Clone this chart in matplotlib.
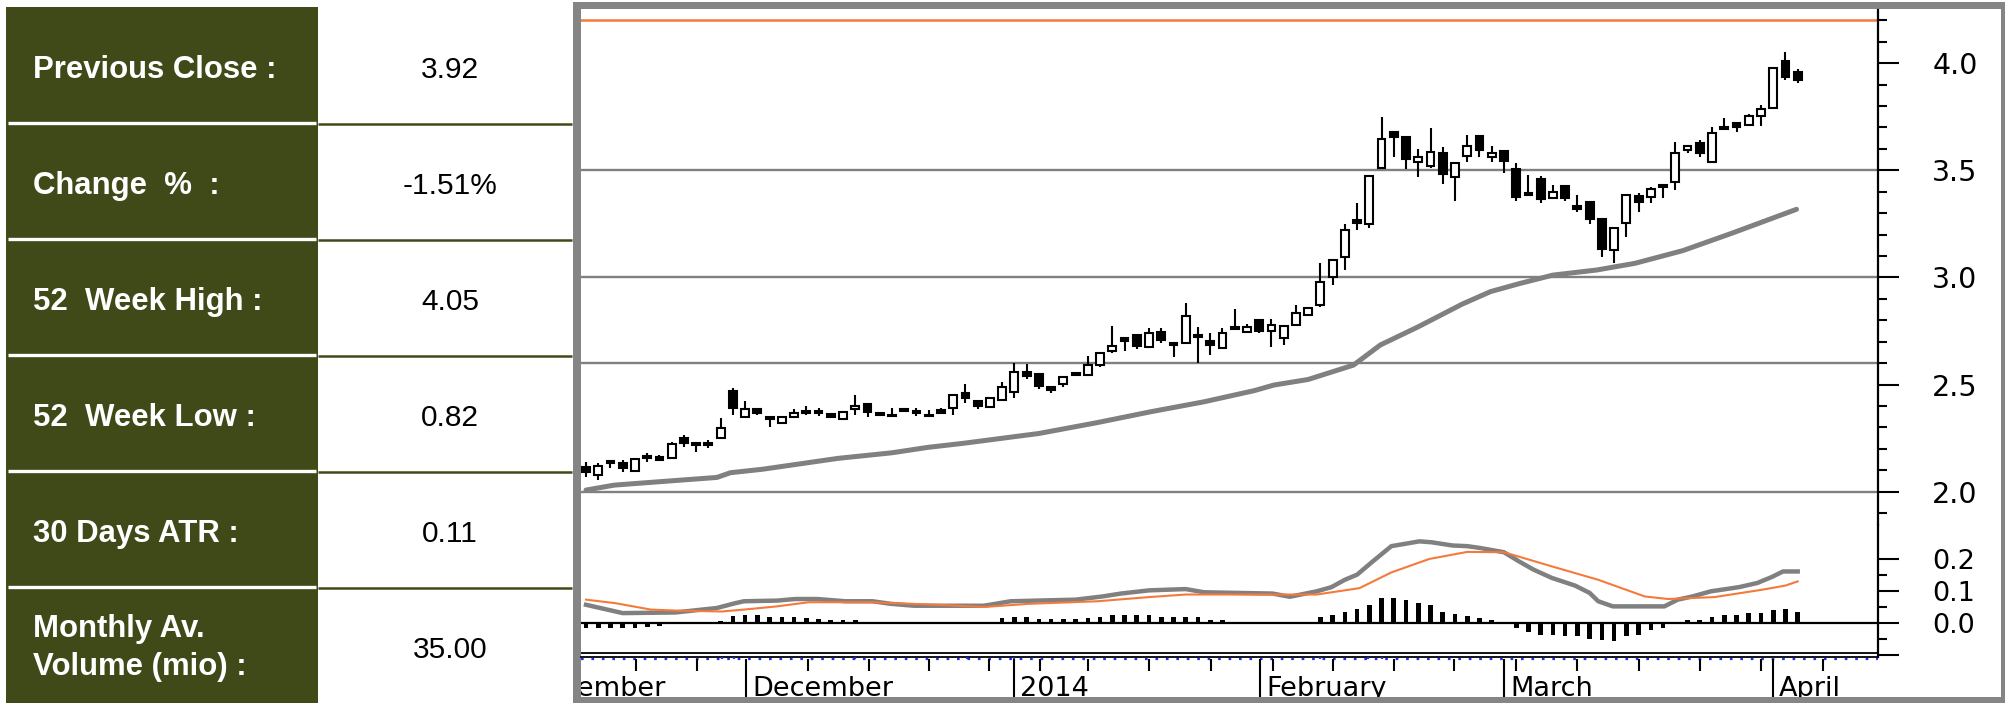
import matplotlib
matplotlib.use("Agg")
import matplotlib.pyplot as plt
from matplotlib.patches import Rectangle
from matplotlib import transforms
import numpy as np

# ---------------- data ----------------
labels = ["Previous Close :", "Change  %  :", "52  Week High :", "52  Week Low :",
          "30 Days ATR :", "Monthly Av.\nVolume (mio) :"]
values = ["3.92", "-1.51%", "4.05", "0.82", "0.11", "35.00"]

opens = [2.117, 2.078, 2.143, 2.135, 2.098, 2.167, 2.163, 2.156, 2.249, 2.226,
         2.226, 2.249, 2.471, 2.350, 2.387, 2.347, 2.319, 2.350, 2.377, 2.377,
         2.363, 2.338, 2.385, 2.408, 2.369, 2.360, 2.385, 2.377, 2.360, 2.381,
         2.389, 2.459, 2.425, 2.397, 2.428, 2.467, 2.560, 2.549, 2.490, 2.503,
         2.555, 2.544, 2.591, 2.658, 2.716, 2.731, 2.677, 2.747, 2.695, 2.695,
         2.731, 2.705, 2.669, 2.770, 2.747, 2.801, 2.751, 2.716, 2.778, 2.825,
         2.870, 3.003, 3.097, 3.267, 3.248, 3.509, 3.680, 3.654, 3.540, 3.520,
         3.580, 3.470, 3.566, 3.660, 3.560, 3.591, 3.504, 3.395, 3.458, 3.369,
         3.426, 3.333, 3.353, 3.271, 3.128, 3.252, 3.380, 3.377, 3.430, 3.447,
         3.594, 3.629, 3.540, 3.700, 3.719, 3.711, 3.753, 3.789, 4.011, 3.960]
closes = [2.093, 2.121, 2.135, 2.109, 2.151, 2.158, 2.150, 2.223, 2.226, 2.218,
          2.218, 2.299, 2.389, 2.385, 2.366, 2.338, 2.350, 2.369, 2.368, 2.366,
          2.350, 2.373, 2.400, 2.373, 2.356, 2.352, 2.375, 2.366, 2.352, 2.369,
          2.451, 2.436, 2.400, 2.436, 2.490, 2.560, 2.540, 2.493, 2.477, 2.534,
          2.544, 2.591, 2.646, 2.680, 2.705, 2.680, 2.739, 2.708, 2.685, 2.821,
          2.723, 2.685, 2.739, 2.758, 2.770, 2.751, 2.778, 2.773, 2.832, 2.856,
          2.980, 3.080, 3.220, 3.255, 3.473, 3.644, 3.654, 3.551, 3.563, 3.587,
          3.482, 3.532, 3.613, 3.594, 3.582, 3.545, 3.374, 3.384, 3.364, 3.399,
          3.369, 3.318, 3.272, 3.131, 3.229, 3.384, 3.353, 3.411, 3.420, 3.582,
          3.613, 3.582, 3.672, 3.691, 3.700, 3.753, 3.785, 3.976, 3.937, 3.921]
highs = [2.137, 2.132, 2.145, 2.148, 2.153, 2.179, 2.170, 2.233, 2.265, 2.228,
         2.241, 2.342, 2.482, 2.425, 2.392, 2.350, 2.352, 2.385, 2.400, 2.390,
         2.366, 2.375, 2.451, 2.410, 2.372, 2.389, 2.388, 2.390, 2.381, 2.392,
         2.453, 2.503, 2.427, 2.444, 2.513, 2.599, 2.596, 2.551, 2.492, 2.536,
         2.560, 2.633, 2.648, 2.773, 2.718, 2.733, 2.762, 2.762, 2.698, 2.882,
         2.770, 2.742, 2.762, 2.851, 2.785, 2.806, 2.806, 2.780, 2.871, 2.860,
         3.066, 3.085, 3.250, 3.347, 3.475, 3.747, 3.682, 3.656, 3.600, 3.696,
         3.607, 3.534, 3.664, 3.662, 3.613, 3.597, 3.535, 3.478, 3.473, 3.431,
         3.428, 3.384, 3.355, 3.273, 3.231, 3.386, 3.392, 3.423, 3.432, 3.633,
         3.615, 3.641, 3.700, 3.742, 3.727, 3.762, 3.804, 3.980, 4.053, 3.971]
lows = [2.070, 2.055, 2.109, 2.093, 2.096, 2.140, 2.145, 2.154, 2.210, 2.187,
        2.202, 2.247, 2.358, 2.348, 2.360, 2.303, 2.317, 2.348, 2.358, 2.355,
        2.347, 2.336, 2.358, 2.347, 2.352, 2.347, 2.370, 2.352, 2.349, 2.362,
        2.358, 2.415, 2.385, 2.395, 2.426, 2.436, 2.524, 2.478, 2.459, 2.487,
        2.540, 2.542, 2.580, 2.649, 2.658, 2.665, 2.670, 2.695, 2.630, 2.690,
        2.602, 2.638, 2.667, 2.756, 2.742, 2.740, 2.677, 2.685, 2.776, 2.820,
        2.860, 2.965, 3.035, 3.220, 3.229, 3.507, 3.560, 3.505, 3.467, 3.510,
        3.436, 3.358, 3.540, 3.560, 3.540, 3.489, 3.358, 3.379, 3.346, 3.367,
        3.358, 3.307, 3.249, 3.097, 3.069, 3.187, 3.307, 3.349, 3.369, 3.408,
        3.580, 3.560, 3.538, 3.688, 3.680, 3.709, 3.706, 3.787, 3.921, 3.909]

ma_idx = [0, 2.3, 6.0, 10.7, 11.8, 14.4, 20.6, 25.0, 27.9, 30.8, 37.0, 41.7, 46.1,
          50.5, 54.6, 56.2, 59.0, 62.7, 64.9, 68.0, 71.6, 73.9, 76.3, 79.0, 82.6,
          85.7, 89.6, 93.6, 98.9]
ma_val = [2.008, 2.031, 2.047, 2.067, 2.089, 2.105, 2.156, 2.182, 2.207, 2.226, 2.272,
          2.322, 2.373, 2.420, 2.472, 2.498, 2.524, 2.591, 2.685, 2.770, 2.876, 2.934,
          2.972, 3.011, 3.035, 3.066, 3.125, 3.206, 3.318]

support_levels = [2.0, 2.6, 3.0, 3.5]
resistance_level = 4.2

macd_idx = [0, 3.0, 7.3, 10.7, 12.2, 12.9, 15.6, 17.1, 18.9, 21.2, 23.4, 24.9, 26.8,
            31.3, 32.5, 34.7, 40.0, 42.2, 43.7, 46.0, 49.0, 50.5, 56.1, 57.5, 59.7,
            60.9, 62.0, 63.0, 64.3, 65.8, 68.1, 69.1, 70.8, 72.0, 73.1, 75.0, 76.2,
            77.4, 78.9, 80.8, 82.0, 82.7, 83.9, 88.1, 89.2, 90.4, 91.9, 94.2, 95.7,
            96.9, 97.8, 99.0]
macd_val = [0.057, 0.031, 0.033, 0.047, 0.062, 0.068, 0.070, 0.075, 0.075, 0.068,
            0.068, 0.060, 0.054, 0.054, 0.054, 0.068, 0.073, 0.083, 0.092, 0.102,
            0.106, 0.096, 0.092, 0.082, 0.099, 0.112, 0.135, 0.151, 0.193, 0.240,
            0.255, 0.252, 0.242, 0.240, 0.234, 0.221, 0.193, 0.167, 0.141, 0.117,
            0.094, 0.068, 0.052, 0.052, 0.073, 0.083, 0.099, 0.112, 0.125, 0.144,
            0.161, 0.161]
sig_idx = [0, 2.4, 5.3, 7.3, 11.1, 12.9, 15.6, 18.2, 23.1, 28.7, 32.5, 36.2, 41.8,
           46.0, 49.0, 55.9, 59.7, 63.2, 65.8, 68.9, 72.0, 75.0, 78.9, 82.7, 86.5,
           88.4, 92.2, 96.1, 98.0, 99.0]
sig_val = [0.073, 0.062, 0.042, 0.039, 0.036, 0.042, 0.052, 0.065, 0.065, 0.057,
           0.050, 0.060, 0.068, 0.081, 0.089, 0.089, 0.089, 0.109, 0.158, 0.200,
           0.222, 0.221, 0.177, 0.135, 0.083, 0.075, 0.081, 0.104, 0.117, 0.130]
hist = [-0.016, -0.016, -0.016, -0.016, -0.016, -0.013, -0.008, 0.003, 0.003, 0.003,
        0.003, 0.007, 0.021, 0.024, 0.024, 0.019, 0.019, 0.019, 0.016, 0.013,
        0.010, 0.010, 0.010, 0.003, 0.003, 0.003, 0.003, 0.003, 0.003, 0.003,
        0.003, 0.003, 0.003, 0.003, 0.016, 0.019, 0.019, 0.013, 0.013, 0.013,
        0.013, 0.016, 0.019, 0.026, 0.026, 0.026, 0.026, 0.019, 0.019, 0.019,
        0.019, 0.010, 0.008, 0.003, 0.003, 0.003, 0.003, 0.003, 0.003, 0.003,
        0.019, 0.026, 0.036, 0.045, 0.057, 0.078, 0.078, 0.071, 0.063, 0.057,
        0.036, 0.029, 0.023, 0.016, 0.008, 0.003, -0.016, -0.029, -0.036, -0.036,
        -0.042, -0.042, -0.050, -0.052, -0.057, -0.042, -0.036, -0.023, -0.016, 0.003,
        0.008, 0.010, 0.019, 0.026, 0.026, 0.031, 0.031, 0.042, 0.045, 0.036]

price_ticks = [2.0, 2.5, 3.0, 3.5, 4.0]
price_minor = [1.9, 2.1, 2.2, 2.3, 2.4, 2.6, 2.7, 2.8, 2.9, 3.1, 3.2, 3.3, 3.4,
               3.6, 3.7, 3.8, 3.9, 4.1, 4.2]
macd_ticks = [-0.1, 0.0, 0.1, 0.2]
macd_tick_labels = ["", "0.0", "0.1", "0.2"]
macd_minor = [-0.05, 0.05, 0.15]

week_ticks = [4.1, 9.1, 18.1, 23.1, 28.0, 32.9, 37.1, 41.0, 46.0, 51.1, 56.1, 61.0,
              66.0, 70.9, 76.0, 81.0, 86.0, 91.0, 96.0, 101.1]
month_pos = [-5.5, 13.1, 35.0, 55.1, 75.0, 97.0]
month_names = ["November", "December", "2014", "February", "March", "April"]
blue_marks = [11.1, 12.1, 22.0, 31.1, 35.0, 60.0, 63.9, 65.0]

# ---------------- style ----------------
W, H = 2005, 703
OLIVE = "#404a19"
ORANGE = "#f47a3c"
GREY = "#808080"
BLUE = "#1f2fe8"
XMIN, XMAX = -0.41, 105.56

fig = plt.figure(figsize=(W / 100, H / 100), dpi=100)
bg = fig.add_axes([0, 0, 1, 1])
bg.set_xlim(0, W)
bg.set_ylim(H, 0)
bg.axis("off")

# ---------------- table ----------------
row_top, row_h = 7, 116
for i, (lab, val) in enumerate(zip(labels, values)):
    y0 = row_top + i * row_h
    bg.add_patch(Rectangle((6, y0), 312, row_h, facecolor=OLIVE, edgecolor="none"))
    if i > 0:
        bg.plot([8, 316], [y0, y0], color="white", lw=2.4, solid_capstyle="butt")
        bg.plot([318, 572], [y0 + 0.5, y0 + 0.5], color=OLIVE, lw=1.8, solid_capstyle="butt")
    lines = lab.split("\n")
    if len(lines) == 1:
        bg.text(33, y0 + 71, lab, color="white", fontsize=22.4, fontweight="bold",
                family="Liberation Sans", va="baseline", ha="left")
    else:
        for j, ln in enumerate(lines):
            bg.text(33, y0 + 50 + j * 38.5, ln, color="white", fontsize=22.4,
                    fontweight="bold", family="Liberation Sans", va="baseline", ha="left")
    bg.text(450, y0 + 70.5, val, color="black", fontsize=21.5, family="Liberation Sans",
            va="baseline", ha="center")

# ---------------- chart frame ----------------
bg.add_patch(Rectangle((573, 2), W - 573, H - 2, facecolor="#858585", edgecolor="none"))
bg.add_patch(Rectangle((581, 9), 2001 - 581, 697 - 9, facecolor="white", edgecolor="none"))

x = np.arange(len(opens))
o = np.array(opens)
c = np.array(closes)
up = c >= o
lo = np.minimum(o, c)
hi = np.maximum(o, c)

L, R = 581, 1878

# ---- price panel ----
axp = fig.add_axes([L / W, 1 - 525 / H, (R - L) / W, (525 - 10) / H])
axp.set_xlim(XMIN, XMAX)
axp.set_ylim(1.845, 4.248)
for s in ["left", "top", "bottom"]:
    axp.spines[s].set_visible(False)
axp.spines["right"].set_linewidth(1.6)
axp.yaxis.tick_right()
axp.set_yticks(price_ticks)
axp.set_yticklabels([f"{t:.1f}" for t in price_ticks])
axp.set_yticks(price_minor, minor=True)
axp.tick_params(axis="y", which="major", length=15, width=1.5, pad=24,
                labelsize=20.5)
axp.tick_params(axis="y", which="minor", length=6.5, width=1.5)
axp.set_xticks([])
for t in axp.get_yticklabels():
    t.set_family("DejaVu Sans")

for lvl in support_levels:
    axp.axhline(lvl, color=GREY, lw=1.7, zorder=1)
axp.axhline(resistance_level, color=ORANGE, lw=1.8, zorder=1)

axp.plot(ma_idx, ma_val, color=GREY, lw=3.6, zorder=2, solid_capstyle="round")
axp.vlines(x, lows, highs, color="black", lw=1.5, zorder=3)
body = np.maximum(hi - lo, 0.008)
axp.bar(x, body, bottom=(hi + lo) / 2 - body / 2, width=0.64,
        color=np.where(up, "white", "black"), edgecolor="black", linewidth=1.5,
        zorder=4)

# ---- MACD panel ----
axm = fig.add_axes([L / W, 1 - 657 / H, (R - L) / W, (657 - 525) / H])
axm.set_xlim(XMIN, XMAX)
axm.set_ylim(-0.106, 0.306)
for s in ["left", "top"]:
    axm.spines[s].set_visible(False)
axm.spines["right"].set_linewidth(1.6)
axm.spines["bottom"].set_linewidth(1.3)
axm.yaxis.tick_right()
axm.set_yticks(macd_ticks)
axm.set_yticklabels(macd_tick_labels)
axm.set_yticks(macd_minor, minor=True)
axm.tick_params(axis="y", which="major", length=15, width=1.5, pad=24,
                labelsize=19.5)
axm.tick_params(axis="y", which="minor", length=6.5, width=1.5)
axm.set_xticks([])
axm.axhline(0, color="black", lw=1.6, zorder=2)
axm.axhline(-0.0947, color="black", lw=1.3, zorder=2)
axm.bar(x, hist, width=0.38, color="black", zorder=3)
axm.plot(macd_idx, macd_val, color=GREY, lw=3.2, zorder=4)
axm.plot(sig_idx, sig_val, color=ORANGE, lw=1.5, zorder=5)

# ---- date strip ----
axx = fig.add_axes([L / W, 1 - 697 / H, (R - L) / W, (697 - 657) / H])
axx.set_xlim(XMIN, XMAX)
axx.set_ylim(0, 1)
axx.axis("off")
axx.axhline(0.95, color=BLUE, lw=1.6, ls=(0, (1.2, 3.5)))
axx.vlines(blue_marks, 0.95, 1.08, color=BLUE, lw=1.6)
axx.vlines(week_ticks, 0.65, 0.95, color="black", lw=1.5)
axx.vlines(month_pos, 0.0, 0.95, color="black", lw=1.5)
off = transforms.offset_copy(axx.transData, fig=fig, x=6, y=0, units="dots")
for pos, name in zip(month_pos, month_names):
    axx.text(pos, 0.03, name, transform=off, fontsize=19.5, family="DejaVu Sans",
             va="baseline", ha="left", clip_on=True)

fig.savefig("out.png", dpi=100)
